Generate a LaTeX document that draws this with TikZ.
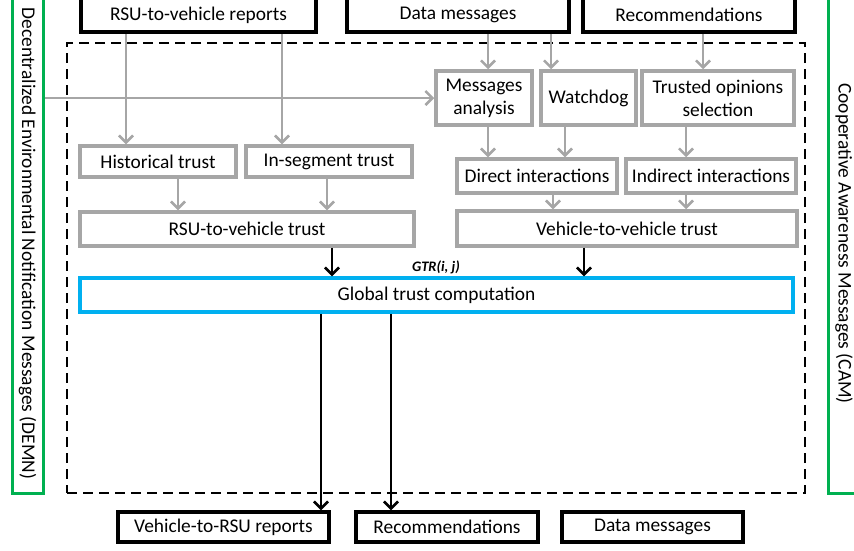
\documentclass[tikz,border=0pt]{standalone}
\usepackage{fontspec}
\setmainfont{Carlito}
\usetikzlibrary{arrows.meta}
\definecolor{boxgray}{RGB}{166,166,166}
\definecolor{gtblue}{RGB}{0,176,240}
\definecolor{sidegreen}{RGB}{0,176,80}

\begin{document}
\begin{tikzpicture}[x=1pt,y=-1pt,
  font=\fontsize{19.4}{22}\selectfont,
  io/.style={draw=black, line width=3.5pt, fill=white, inner sep=0pt},
  stage/.style={draw=boxgray, line width=3.5pt, fill=white, inner sep=0pt, align=center},
  side/.style={draw=sidegreen, line width=3pt, inner sep=0pt},
  feed/.style={draw=boxgray, line width=2.5pt, -{Straight Barb[length=7pt,width=14pt,line width=2.5pt]}},
  flow/.style={draw=black, line width=2.5pt, -{Straight Barb[length=7pt,width=14pt,line width=2.5pt]}}]
\useasboundingbox (0,0) rectangle (854,550);

% side message channels
\node[side, rotate=-90, minimum width=500, minimum height=31] (demn) at (27.5,243.5)
  {Decentralized Environmental Notification Messages (DEMN)};
\node[side, rotate=-90, minimum width=500, minimum height=32] (cam) at (844,243.5)
  {Cooperative Awareness Messages (CAM)};

% trust management frame
\node[draw=black, line width=2.5pt, dash pattern=on 10pt off 6pt, minimum width=738, minimum height=450] (frame) at (436,268) {};

% inputs
\node[io, minimum width=235, minimum height=34] (rsurep) at (198.5,15) {RSU-to-vehicle reports};
\node[io, minimum width=222, minimum height=34] (datain) at (458,15) {Data messages};
\node[io, minimum width=212, minimum height=34] (recin) at (689,15) {Recommendations};

% RSU side
\node[stage, minimum width=156, minimum height=31] (hist) at (158,161.5) {Historical trust};
\node[stage, minimum width=166, minimum height=31] (inseg) at (329,161.5) {In-segment trust};
\node[stage, minimum width=334, minimum height=34] (rsutrust) at (247,229) {RSU-to-vehicle trust};

% vehicle side
\node[stage, minimum width=96, minimum height=54] (msg) at (484,98) {Messages\\[1pt]analysis};
\node[stage, minimum width=95, minimum height=54] (watch) at (588.5,98) {Watchdog};
\node[stage, minimum width=152, minimum height=54] (trusted) at (718,98) {Trusted opinions\\[1pt]selection};
\node[stage, minimum width=160, minimum height=34] (direct) at (537,176) {Direct interactions};
\node[stage, minimum width=170, minimum height=34] (indirect) at (711,176) {Indirect interactions};
\node[stage, minimum width=340, minimum height=35] (v2v) at (627,228.5) {Vehicle-to-vehicle trust};

% aggregation
\node[draw=gtblue, line width=3.5pt, fill=white, minimum width=713, minimum height=34, inner sep=0pt] (global) at (436.5,295) {Global trust computation};
\node[font=\fontsize{14.5}{16}\selectfont\bfseries\itshape] (gtr) at (436,267) {GTR(i, j)};

% outputs
\node[io, minimum width=211, minimum height=30] (out1) at (223.5,527) {Vehicle-to-RSU reports};
\node[io, minimum width=182, minimum height=30] (out2) at (447,527) {Recommendations};
\node[io, minimum width=181, minimum height=30] (out3) at (652.5,527) {Data messages};

% feeds into the RSU branch
\draw[feed] (rsurep.south -| 126,0) -- (hist.north -| 126,0);
\draw[feed] (rsurep.south -| 282,0) -- (inseg.north -| 282,0);
\draw[feed] (hist.south -| 178,0) -- (rsutrust.north -| 178,0);
\draw[feed] (inseg.south -| 327,0) -- (rsutrust.north -| 327,0);

% feeds into the vehicle branch
\draw[feed] (msg.west -| demn.north) -- (msg.west);
\draw[feed] (datain.south -| 488,0) -- (msg.north -| 488,0);
\draw[feed] (datain.south -| 551,0) -- (watch.north -| 551,0);
\draw[feed] (recin.south -| 703,0) -- (trusted.north -| 703,0);
\draw[feed] (msg.south -| 488,0) -- (direct.north -| 488,0);
\draw[feed] (watch.south -| 565,0) -- (direct.north -| 565,0);
\draw[feed] (trusted.south -| 686,0) -- (indirect.north -| 686,0);
\draw[feed] (direct.south -| 553,0) -- (v2v.north -| 553,0);
\draw[feed] (indirect.south -| 686,0) -- (v2v.north -| 686,0);

% trust values to the global computation and its outputs
\draw[flow] (rsutrust.south -| 332,0) -- (global.north -| 332,0);
\draw[flow] (v2v.south -| 584,0) -- (global.north -| 584,0);
\draw[flow] (global.south -| 321,0) -- (out1.north -| 321,0);
\draw[flow] (global.south -| 391,0) -- (out2.north -| 391,0);
\end{tikzpicture}
\end{document}
